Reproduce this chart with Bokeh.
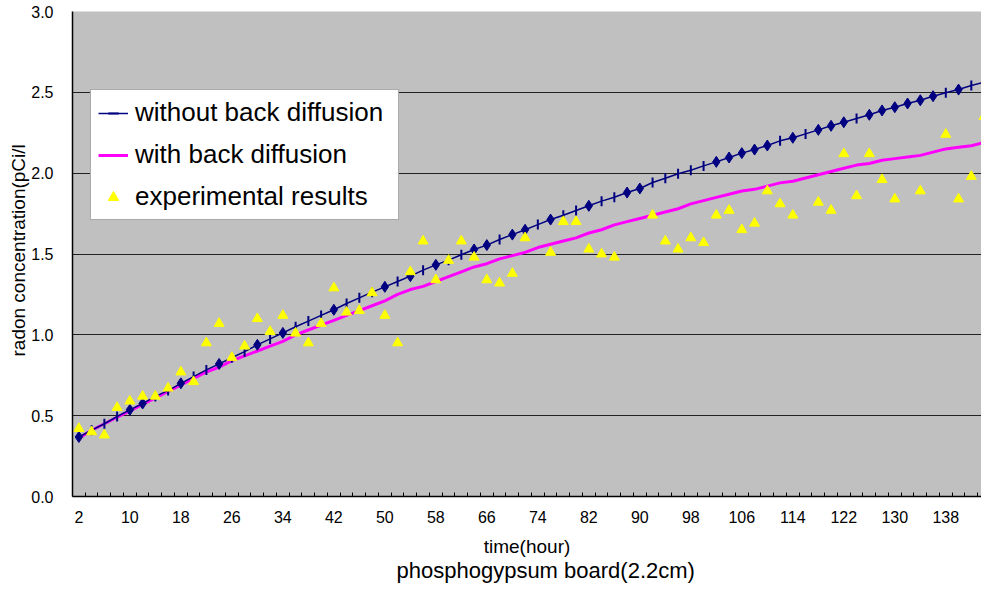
import math
from bokeh.plotting import figure
from bokeh.models import (Range1d, FixedTicker, NumeralTickFormatter, Legend,
                          LegendItem, Title)
from bokeh.embed import file_html
from bokeh.resources import INLINE

# ---------------- data ----------------
hours = list(range(2, 145, 2))  # 2 .. 144 hours (category axis)

without_back_diffusion = [
    0.368, 0.41, 0.45, 0.495, 0.536, 0.575, 0.619, 0.655, 0.70, 0.742,
    0.783, 0.82, 0.858, 0.896, 0.938, 0.975, 1.012, 1.05, 1.085, 1.12,
    1.155, 1.194, 1.229, 1.264, 1.297, 1.33, 1.363, 1.40, 1.433, 1.462,
    1.495, 1.528, 1.555, 1.59, 1.62, 1.65, 1.682, 1.713, 1.74, 1.769,
    1.798, 1.827, 1.851, 1.88, 1.905, 1.942, 1.969, 1.996, 2.018, 2.045,
    2.07, 2.097, 2.124, 2.146, 2.171, 2.20, 2.219, 2.243, 2.268, 2.293,
    2.315, 2.338, 2.361, 2.388, 2.408, 2.431, 2.451, 2.476, 2.497, 2.517,
    2.542, 2.562,
]

with_back_diffusion = [
    0.36, 0.41, 0.45, 0.49, 0.53, 0.57, 0.61, 0.65, 0.69, 0.73,
    0.77, 0.80, 0.84, 0.87, 0.90, 0.93, 0.96, 1.00, 1.03, 1.06,
    1.09, 1.12, 1.15, 1.18, 1.21, 1.25, 1.28, 1.30, 1.33, 1.36,
    1.39, 1.42, 1.44, 1.47, 1.49, 1.51, 1.54, 1.56, 1.58, 1.60,
    1.63, 1.65, 1.68, 1.70, 1.72, 1.74, 1.76, 1.78, 1.81, 1.83,
    1.85, 1.87, 1.89, 1.90, 1.92, 1.94, 1.95, 1.97, 1.99, 2.01,
    2.03, 2.05, 2.06, 2.08, 2.09, 2.10, 2.11, 2.13, 2.15, 2.16,
    2.17, 2.19,
]

diamond_hours = [2, 10, 12, 18, 24, 30, 34, 42, 50, 54, 58, 64, 66, 70, 72,
                 76, 82, 88, 90, 102, 104, 106, 108, 110, 114, 118, 120, 122,
                 126, 128, 130, 132, 134, 136, 140]

exp_hours = [2, 4, 6, 8, 10, 12, 14, 16, 18, 20, 22, 24, 26, 28, 30, 32, 34,
             36, 38, 40, 42, 44, 46, 48, 50, 52, 54, 56, 58, 60, 62, 64, 66,
             68, 70, 72, 76, 78, 80, 82, 84, 86, 92, 94, 96, 98, 100, 102,
             104, 106, 108, 110, 112, 114, 118, 120, 122, 124, 126, 128, 130,
             134, 138, 140, 142, 144]
exp_values = [0.42, 0.40, 0.38, 0.55, 0.59, 0.62, 0.62, 0.67, 0.77, 0.71,
              0.95, 1.07, 0.86, 0.93, 1.10, 1.02, 1.12, 1.01, 0.95, 1.07,
              1.29, 1.14, 1.15, 1.26, 1.12, 0.95, 1.39, 1.58, 1.34, 1.46,
              1.58, 1.48, 1.34, 1.32, 1.38, 1.60, 1.51, 1.70, 1.70, 1.53,
              1.50, 1.48, 1.74, 1.58, 1.53, 1.60, 1.57, 1.74, 1.77, 1.65,
              1.69, 1.89, 1.81, 1.74, 1.82, 1.77, 2.12, 1.86, 2.12, 1.96,
              1.84, 1.89, 2.24, 1.84, 1.98, 2.35]

x_label_hours = [2, 10, 18, 26, 34, 42, 50, 58, 66, 74, 82, 90, 98, 106,
                 114, 122, 130, 138]
y_ticks = [0.0, 0.5, 1.0, 1.5, 2.0, 2.5, 3.0]

series_names = ["without back diffusion", "with back diffusion",
                "experimental results"]
x_title = "time(hour)"
y_title = "radon concentration(pCi/l"
chart_caption = "phosphogypsum board(2.2cm)"

# ---------------- derived ----------------
blue_lookup = dict(zip(hours, without_back_diffusion))
dash_hours = [h for h in hours if h not in diamond_hours]
dash_vals = [blue_lookup[h] for h in dash_hours]
diamond_vals = [blue_lookup[h] for h in diamond_hours]

FONT = "Liberation Sans"
NAVY = "#000080"
MAGENTA = "#FF00FF"

p = figure(frame_width=909, frame_height=485,
           x_range=Range1d(1, 143.6), y_range=Range1d(0, 3),
           output_backend="svg", toolbar_location=None,
           min_border_left=72, min_border_right=0, min_border_top=11,
           min_border_bottom=100,
           background_fill_color="#C0C0C0", border_fill_color="white",
           outline_line_color=None)

# series
mag = p.line(hours, with_back_diffusion, line_color=MAGENTA, line_width=3)
blue = p.line(hours, without_back_diffusion, line_color=NAVY, line_width=1.5)
dash = p.scatter(dash_hours, dash_vals, marker="dash", angle=math.pi / 2,
                 size=10, line_color=NAVY, line_width=2)
p.scatter(diamond_hours, diamond_vals, marker="diamond", size=11,
          fill_color=NAVY, line_color=NAVY)
tri = p.scatter(exp_hours, exp_values, marker="triangle", size=10,
                fill_color="#FFFF00", line_color="#FFFF00")

# axes
xa = p.xaxis[0]
xa.ticker = FixedTicker(ticks=x_label_hours, minor_ticks=list(range(1, 146, 2)))
xa.major_tick_in = 0
xa.major_tick_out = 0
xa.minor_tick_in = 4
xa.minor_tick_out = 0
xa.minor_tick_line_color = "black"
xa.axis_line_color = "black"
xa.axis_line_width = 1.5
xa.major_label_text_font = FONT
xa.major_label_text_font_size = "16px"
xa.major_label_text_color = "black"
xa.major_label_standoff = 14
xa.axis_label = x_title
xa.axis_label_text_font = FONT
xa.axis_label_text_font_size = "19px"
xa.axis_label_text_font_style = "normal"
xa.axis_label_text_color = "black"
xa.axis_label_standoff = 10

ya = p.yaxis[0]
ya.ticker = FixedTicker(ticks=y_ticks)
ya.formatter = NumeralTickFormatter(format="0.0")
ya.major_tick_in = 0
ya.major_tick_out = 0
ya.minor_tick_line_color = None
ya.axis_line_color = "black"
ya.axis_line_width = 1.5
ya.major_label_text_font = FONT
ya.major_label_text_font_size = "16px"
ya.major_label_text_color = "black"
ya.major_label_standoff = 19

p.xgrid.visible = False
p.ygrid.ticker = FixedTicker(ticks=y_ticks)
p.ygrid.grid_line_color = "#222222"
p.ygrid.grid_line_width = 1

# titles
t_c = Title(text=chart_caption, align="left", offset=324, standoff=-8,
            text_font=FONT, text_font_size="22px", text_font_style="normal",
            text_color="black")
p.add_layout(t_c, "below")
t_y = Title(text=y_title, align="left", offset=140, standoff=0,
            text_font=FONT, text_font_size="19px", text_font_style="normal",
            text_color="black")
p.add_layout(t_y, "left")

# legend
legend = Legend(items=[
    LegendItem(label=series_names[0], renderers=[blue, dash]),
    LegendItem(label=series_names[1], renderers=[mag]),
    LegendItem(label=series_names[2], renderers=[tri]),
], location=(18, 276), padding=7, spacing=11, glyph_width=30,
    glyph_height=26, label_height=26, label_standoff=7, label_width=256,
    label_text_font=FONT, label_text_font_size="26px",
    label_text_color="black",
    border_line_color="#555555", border_line_width=1,
    background_fill_color="white", background_fill_alpha=1.0, margin=0)
p.add_layout(legend)

open("out.html", "w").write(file_html(p, INLINE))
